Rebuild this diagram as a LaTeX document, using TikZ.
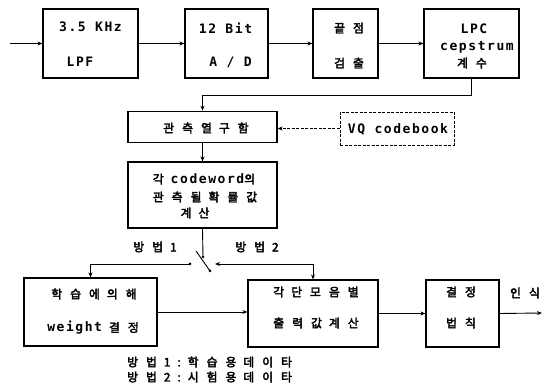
\documentclass[tikz,border=0pt]{standalone}
\usepackage{fontspec}
\usetikzlibrary{arrows.meta}
\newfontfamily\kr{Noto Sans CJK KR}[LetterSpace=68,FakeBold=3]
\newfontfamily\lt{DejaVu Sans Mono}[LetterSpace=12]
\newcommand\Kr[1]{{\kr\fontsize{11.8pt}{14pt}\selectfont #1}}
\newcommand\Lt[1]{{\lt\bfseries\fontsize{13pt}{15pt}\selectfont #1}}
\newcommand\wsp{\hspace{7pt}}
\begin{document}
\begin{tikzpicture}[x=1pt,y=-1pt,
  box/.style={draw,line width=1.1pt,rectangle,inner sep=0pt},
  dbox/.style={draw,line width=0.8pt,dash pattern=on 3pt off 1.5pt,rectangle,inner sep=0pt},
  txt/.style={inner sep=0pt,anchor=center},
  arr/.style={line width=0.9pt,-{Stealth[length=5pt,width=4pt]}},
  darr/.style={line width=0.8pt,dash pattern=on 3pt off 1.5pt,-{Stealth[length=5pt,width=4pt]}},
  ln/.style={line width=0.9pt}]
\useasboundingbox (0,0) rectangle (542,390);
% top row
\node[box,minimum width=95pt,minimum height=69pt] (b1) at (90.5,43.5) {};
\node[box,minimum width=83pt,minimum height=69pt] (b2) at (226.5,43.5) {};
\node[box,minimum width=65pt,minimum height=69pt] (b3) at (345.5,43.5) {};
\node[box,minimum width=95pt,minimum height=69pt] (b4) at (471.5,43.5) {};
\node[txt] (t1a) at (90.5,27) {\Lt{3.5 KHz}};
\node[txt] (t1b) at (80,62) {\Lt{LPF}};
\node[txt] (t2a) at (225.5,28) {\Lt{12 Bit}};
\node[txt] (t2b) at (230.5,62) {\Lt{A / D}};
\node[txt] (t3a) at (349,28) {\Kr{끝점}};
\node[txt] (t3b) at (349,63) {\Kr{검출}};
\node[txt] (t4a) at (474,29) {\Lt{LPC}};
\node[txt] (t4b) at (477,47) {\Lt{cepstrum}};
\node[txt] (t4c) at (472,63) {\Kr{계수}};
\coordinate (in) at (10,43.5);
\draw[arr] (in) -- (b1.west);
\draw[arr] (b1.east) -- (b2.west);
\draw[arr] (b2.east) -- (b3.west);
\draw[arr] (b3.east) -- (b4.west);
% middle
\node[box,minimum width=149pt,minimum height=31.5pt] (obs) at (202.5,127) {};
\node[txt] (tobs) at (206,128) {\Kr{관측열\wsp 구함}};
\node[dbox,minimum width=114pt,minimum height=33pt] (vq) at (397,128.5) {};
\node[txt] (tvq) at (398,129) {\Lt{VQ codebook}};
\node[box,minimum width=149pt,minimum height=66pt] (big) at (202.5,195) {};
\node[txt] (tb1) at (204,179) {\Kr{각}\wsp\Lt{codeword}\Kr{의}};
\node[txt] (tb2) at (205,197) {\Kr{관측될\wsp 확률값}};
\node[txt] (tb3) at (195,213) {\Kr{계\wsp 산}};
\draw[arr] (b4.south) -- ++(0,17) -| (obs.north);
\draw[darr] (vq.west) -- (vq.west -| obs.east);
\draw[arr] (obs.south) -- (big.north);
% switch
\coordinate (piv) at (203,257);
\coordinate (swL) at (190,264);
\coordinate (swR) at (215,264);
\coordinate (bl1) at (196,251);
\coordinate (bl2) at (210,271);
\draw[ln] (big.south) -- (piv);
\draw[ln] (bl1) -- (bl2);
\fill (piv) circle (1.5pt);
\fill (swL) circle (1.5pt);
\fill (bl2) circle (1.5pt);
\node[txt] (m1) at (155,247) {\Kr{방법\wsp 1}};
\node[txt] (m2) at (257,247) {\Kr{방법\wsp 2}};
% bottom row
\node[box,minimum width=133pt,minimum height=68pt] (lb) at (90.5,312) {};
\node[txt] (tl1) at (94,294) {\Kr{학습에\wsp 의해}};
\node[txt] (tl2) at (93,328) {\Lt{weight}\wsp\Kr{결정}};
\node[box,minimum width=130pt,minimum height=67pt] (mb) at (313,313.5) {};
\node[txt] (tm1) at (316,292) {\Kr{각\wsp 단모음별}};
\node[txt] (tm2) at (316,323) {\Kr{출력값\wsp 계산}};
\node[box,minimum width=73pt,minimum height=67pt] (db) at (462.5,313.5) {};
\node[txt] (td1) at (461,292) {\Kr{결정}};
\node[txt] (td2) at (461,323) {\Kr{법칙}};
\coordinate (out) at (542,313);
\node[txt] (tout) at (525,293) {\Kr{인식}};
\draw[arr] (swL) -| (lb.north);
\draw[line width=0.9pt,{Stealth[length=5pt,width=4pt]}-{Stealth[length=5pt,width=4pt]}] (swR) -| (mb.north);
\draw[arr] (lb.east |- 0,312) -- (mb.west |- 0,312);
\draw[arr] (mb.east) -- (db.west);
\draw[arr] (db.east) -- (out);
\node[txt,anchor=west] (n1) at (127,362) {\Kr{방법\wsp 1\wsp :\wsp 학습용\wsp 데이타}};
\node[txt,anchor=west] (n2) at (127,377) {\Kr{방법\wsp 2\wsp :\wsp 시험용\wsp 데이타}};
\end{tikzpicture}
\end{document}
